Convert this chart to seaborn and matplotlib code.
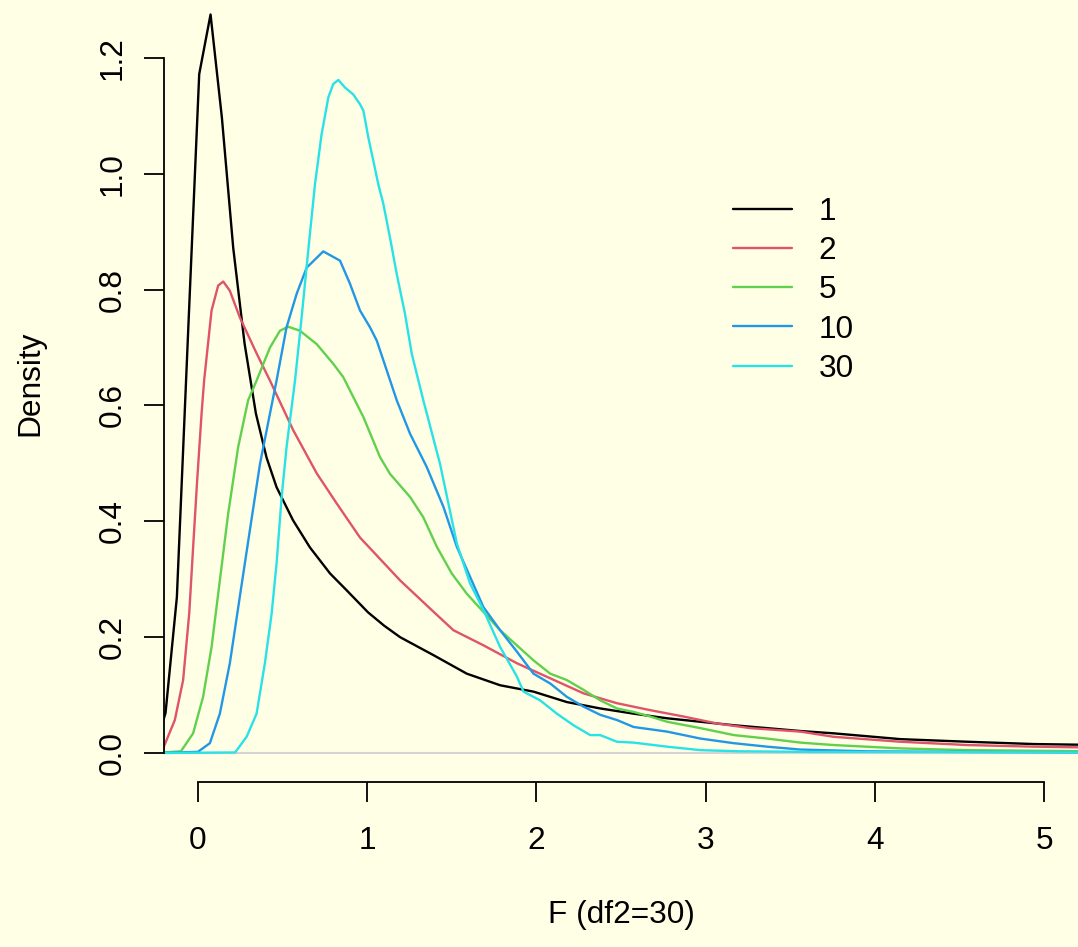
import matplotlib

matplotlib.use("Agg")
import matplotlib.pyplot as plt
import pandas as pd
import seaborn as sns

# Density curves, one (F, density) list per df1
DF1_LEVELS = [1, 2, 5, 10, 30]
COLORS = ["black", "#DF536B", "#61D04F", "#2297E6", "#28E2E5"]

F1 = [
    (-0.258, 0.005), (-0.191, 0.069), (-0.124, 0.269), (-0.057, 0.73),
    (0.008, 1.172), (0.075, 1.275), (0.142, 1.097), (0.209, 0.872),
    (0.276, 0.707), (0.343, 0.586), (0.406, 0.510), (0.465, 0.459),
    (0.562, 0.402), (0.662, 0.355), (0.781, 0.310), (0.879, 0.281),
    (1.005, 0.243), (1.10, 0.22), (1.195, 0.200), (1.392, 0.169),
    (1.589, 0.137), (1.786, 0.117), (1.983, 0.106), (2.18, 0.088),
    (2.377, 0.077), (2.574, 0.068), (2.772, 0.060), (2.969, 0.054),
    (3.166, 0.048), (3.363, 0.043), (3.56, 0.038), (3.757, 0.034),
    (4.151, 0.024), (4.546, 0.0195), (4.94, 0.0155), (5.3, 0.014),
]
F2 = [
    (-0.25, 0.0), (-0.205, 0.008), (-0.136, 0.057), (-0.087, 0.126),
    (-0.051, 0.241), (-0.028, 0.355), (-0.004, 0.471), (0.022, 0.586),
    (0.037, 0.643), (0.081, 0.764), (0.12, 0.807), (0.15, 0.814),
    (0.189, 0.798), (0.248, 0.752), (0.347, 0.69), (0.426, 0.643),
    (0.564, 0.557), (0.702, 0.483), (0.82, 0.431), (0.958, 0.372),
    (1.195, 0.298), (1.392, 0.244), (1.51, 0.212), (1.687, 0.186),
    (1.885, 0.155), (2.082, 0.129), (2.279, 0.103), (2.476, 0.086),
    (2.673, 0.074), (2.87, 0.063), (3.067, 0.051), (3.264, 0.043),
    (3.56, 0.037), (3.757, 0.028), (4.151, 0.0195), (4.546, 0.0138),
    (4.94, 0.011), (5.3, 0.0095),
]
F5 = [
    (-0.25, 0.0), (-0.1, 0.003), (-0.028, 0.034), (0.031, 0.097),
    (0.081, 0.183), (0.13, 0.298), (0.179, 0.413), (0.238, 0.528),
    (0.297, 0.609), (0.347, 0.643), (0.426, 0.70), (0.485, 0.729),
    (0.534, 0.736), (0.603, 0.729), (0.702, 0.706), (0.80, 0.672),
    (0.859, 0.649), (0.978, 0.58), (1.076, 0.511), (1.135, 0.482),
    (1.254, 0.442), (1.332, 0.407), (1.412, 0.356), (1.50, 0.31),
    (1.589, 0.275), (1.786, 0.212), (1.983, 0.16), (2.082, 0.137),
    (2.18, 0.126), (2.279, 0.109), (2.377, 0.091), (2.476, 0.077),
    (2.574, 0.071), (2.673, 0.063), (2.772, 0.054), (2.969, 0.043),
    (3.166, 0.031), (3.363, 0.025), (3.56, 0.018), (3.757, 0.0138),
    (4.151, 0.008), (4.546, 0.005), (5.3, 0.003),
]
F10 = [
    (-0.25, 0.0), (0.0, 0.002), (0.071, 0.017), (0.13, 0.068),
    (0.189, 0.155), (0.248, 0.27), (0.307, 0.384), (0.367, 0.499),
    (0.426, 0.586), (0.465, 0.643), (0.524, 0.735), (0.584, 0.793),
    (0.643, 0.838), (0.741, 0.866), (0.84, 0.85), (0.899, 0.81),
    (0.958, 0.764), (1.017, 0.735), (1.057, 0.712), (1.096, 0.678),
    (1.175, 0.609), (1.254, 0.551), (1.352, 0.494), (1.451, 0.425),
    (1.53, 0.356), (1.687, 0.252), (1.786, 0.212), (1.885, 0.175),
    (1.983, 0.137), (2.082, 0.12), (2.18, 0.097), (2.279, 0.08),
    (2.377, 0.066), (2.476, 0.057), (2.574, 0.045), (2.772, 0.037),
    (2.969, 0.025), (3.166, 0.017), (3.363, 0.011), (3.56, 0.006),
    (3.95, 0.003), (4.5, 0.002), (5.3, 0.001),
]
F30 = [
    (-0.25, 0.0), (0.22, 0.001), (0.288, 0.028), (0.347, 0.068),
    (0.396, 0.155), (0.436, 0.241), (0.465, 0.327), (0.495, 0.442),
    (0.524, 0.528), (0.554, 0.597), (0.574, 0.643), (0.613, 0.752),
    (0.652, 0.867), (0.692, 0.982), (0.731, 1.068), (0.771, 1.132),
    (0.80, 1.155), (0.83, 1.162), (0.869, 1.149), (0.918, 1.137),
    (0.958, 1.12), (0.978, 1.109), (1.007, 1.063), (1.037, 1.022),
    (1.066, 0.982), (1.096, 0.948), (1.135, 0.89), (1.175, 0.827),
    (1.224, 0.758), (1.264, 0.689), (1.332, 0.609), (1.431, 0.499),
    (1.53, 0.362), (1.608, 0.293), (1.687, 0.247), (1.786, 0.183),
    (1.885, 0.132), (1.924, 0.106), (2.022, 0.091), (2.121, 0.068),
    (2.219, 0.048), (2.318, 0.031), (2.377, 0.031), (2.476, 0.0195),
    (2.574, 0.018), (2.772, 0.011), (2.969, 0.005), (3.2, 0.003),
    (3.6, 0.002), (5.3, 0.001),
]

X_TICKS = [0, 1, 2, 3, 4, 5]
Y_TICKS = [0.0, 0.2, 0.4, 0.6, 0.8, 1.0, 1.2]
BG = "#FFFFE5"
FONT_SIZE = 22.8

sns.set_style("ticks")
plt.rcParams["font.family"] = ["Liberation Sans", "DejaVu Sans"]
plt.rcParams["text.color"] = "black"
plt.rcParams["axes.labelcolor"] = "black"

W, H = 1078, 947
fig = plt.figure(figsize=(W / 100, H / 100), dpi=100, facecolor=BG)
ax = fig.add_axes([164 / W, (H - 782) / H, (W - 164) / W, 782 / H])
ax.set_facecolor(BG)

ax.axhline(0, color="#d4d4d4", lw=1.5, zorder=1)

for level, pts, color in zip(DF1_LEVELS, [F1, F2, F5, F10, F30], COLORS):
    frame = pd.DataFrame(pts, columns=["F", "density"])
    sns.lineplot(
        data=frame,
        x="F",
        y="density",
        color=color,
        lw=1.7,
        sort=False,
        estimator=None,
        label=str(level),
        ax=ax,
        zorder=2,
    )

ax.set_xlim(-0.2, 5.2)
ax.set_ylim(-0.05, 1.3)

ax.set_xticks(X_TICKS)
ax.set_xticklabels([str(t) for t in X_TICKS])
ax.set_yticks(Y_TICKS)
ax.set_yticklabels([f"{t:.1f}" for t in Y_TICKS])
ax.tick_params(axis="both", length=14.4, width=1.3, color="black",
               labelsize=FONT_SIZE, labelcolor="black")
ax.tick_params(axis="x", pad=17.5)
ax.tick_params(axis="y", pad=12, labelrotation=90)
for lab in ax.get_yticklabels():
    lab.set_va("center")

for side in ["top", "right"]:
    ax.spines[side].set_visible(False)
for side in ["left", "bottom"]:
    ax.spines[side].set_linewidth(1.3)
    ax.spines[side].set_color("black")
ax.spines["left"].set_bounds(0, 1.2)
ax.spines["bottom"].set_bounds(0, 5)

ax.set_xlabel("F (df2=30)", fontsize=FONT_SIZE)
ax.set_ylabel("Density", fontsize=FONT_SIZE)
ax.xaxis.set_label_coords(0.5, -0.170)
ax.xaxis.label.set_va("center")
ax.yaxis.set_label_coords(-0.1466, 0.51)
ax.yaxis.label.set_va("center")

ax.legend(
    loc="upper left",
    bbox_to_anchor=(733 / W, 1 - 197 / H),
    bbox_transform=fig.transFigure,
    frameon=False,
    fontsize=FONT_SIZE,
    handlelength=1.85,
    handletextpad=0.85,
    labelspacing=0.29,
    borderpad=0,
    borderaxespad=0,
)

fig.savefig("out.png", dpi=100, facecolor=BG)
